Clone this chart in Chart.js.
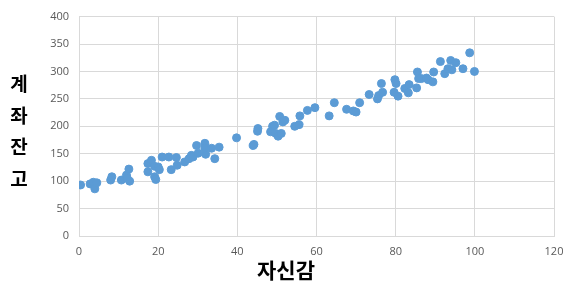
<!DOCTYPE html>
<html>
<head>
<meta charset="utf-8">
<script src="https://cdn.jsdelivr.net/npm/chart.js@4"></script>
<style>
  html, body { margin: 0; padding: 0; background: #fff; }
  #wrap { width: 573px; height: 292px; position: relative; }
</style>
</head>
<body>
<div id="wrap"><canvas id="chart" width="573" height="292"></canvas></div>
<script>
// 자신감 (x) 값
const confidence = [
    0.4, 2.8, 3.6, 4, 4.5,
    8, 8.3, 10.7, 12, 12.6, 12.8, 12.2,
    17.4, 17.4, 18.3, 19.1, 19.1, 19.4, 20, 20.3,
    21, 22.7, 23.3, 24.6, 24.8, 26.7, 27.8, 28.4, 28.8,
    29.7, 30.1, 31.8, 32, 31.8, 33.5, 34.3, 35.4,
    39.8, 44, 44.2, 45.2, 45.1, 48.4, 48.9, 49.4, 49.7, 50.3, 50.7, 51.1, 51.5, 52, 54.5, 55.6, 55.8, 57.7, 59.6,
    63.2, 64.5, 67.6, 69.3, 70, 70.9, 73.3, 75.4, 75.7, 76.4, 76.7, 79.8, 80.1, 79.6, 80.6, 82.3, 83.4, 83.2,
    85.3, 85.5, 85.8, 86.5, 87.8, 88.2, 89.4, 89.6, 91.3, 92.4, 93.2, 93.9, 94.2, 95.2, 97, 98.7, 99.9
];
// 계좌잔고 (y) 값
const balance = [
    93, 95, 98, 86, 97,
    102, 108, 102, 111, 122, 100, 105,
    117, 132, 138, 127, 108, 103, 126, 121,
    144, 144, 121, 143, 129, 135, 141, 147, 144,
    165, 151, 169, 149, 160, 160, 141, 162,
    179, 165, 167, 196, 191, 190, 200, 202, 187, 182, 218, 187, 208, 211, 200, 203, 219, 229, 234,
    219, 243, 231, 228, 226, 243, 258, 250, 256, 278, 262, 285, 278, 262, 255, 269, 276, 261,
    270, 299, 287, 287, 288, 285, 281, 299, 318, 296, 305, 320, 303, 316, 305, 334, 300
];

const xTitle = "자신감";
const yTitle = ["계", "좌", "잔", "고"];

// 축 제목을 직접 그리기 (y축 제목은 글자를 세로로 쌓음)
const axisTitles = {
    id: "axisTitles",
    afterDraw(chart) {
        const ctx = chart.ctx;
        ctx.save();
        ctx.fillStyle = "#000";
        ctx.textAlign = "center";
        ctx.textBaseline = "middle";
        ctx.font = "bold 21px 'Noto Sans CJK KR'";
        ctx.fillText(xTitle, 286, 270);
        ctx.font = "bold 19px 'Noto Sans CJK KR'";
        yTitle.forEach((ch, i) => ctx.fillText(ch, 19, 84 + i * 31.5));
        ctx.restore();
    }
};

new Chart(document.getElementById("chart"), {
    type: "scatter",
    data: {
        datasets: [{
            data: confidence.map((x, i) => ({x: x, y: balance[i]})),
            backgroundColor: "#5B9BD5",
            borderColor: "#5B9BD5",
            pointRadius: 4,
            pointHoverRadius: 4,
        }],
    },
    options: {
        responsive: false,
        animation: false,
        layout: {padding: {left: 40, right: 19, top: 16, bottom: 0}},
        plugins: {legend: {display: false}, tooltip: {enabled: false}},
        scales: {
            x: {
                min: 0, max: 120,
                ticks: {stepSize: 20, color: "#595959", padding: 9, font: {family: "'Open Sans'", size: 11}},
                grid: {color: "#D9D9D9", drawTicks: false},
                border: {color: "#D9D9D9"},
                afterFit: s => { s.height = 56; },
            },
            y: {
                min: 0, max: 400,
                ticks: {stepSize: 50, color: "#595959", padding: 10, font: {family: "'Open Sans'", size: 11}},
                grid: {color: "#D9D9D9", drawTicks: false},
                border: {color: "#D9D9D9"},
                afterFit: s => { s.width = 39; },
            },
        },
    },
    plugins: [axisTitles],
});
</script>
</body>
</html>
